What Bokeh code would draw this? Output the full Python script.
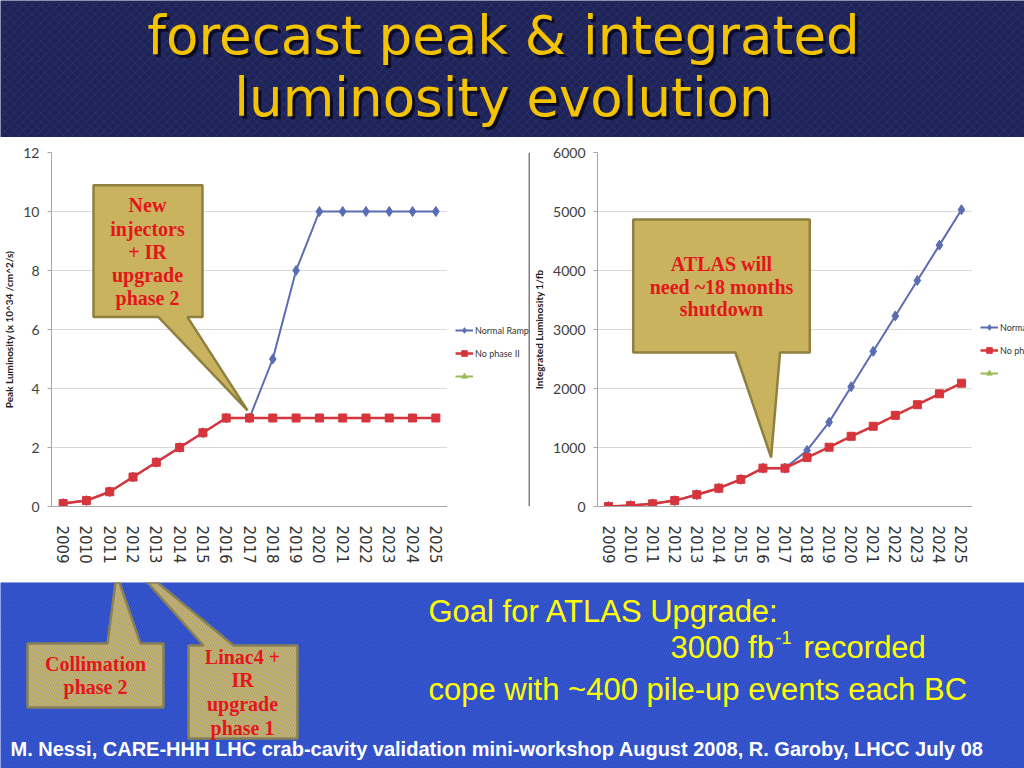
import math
from bokeh.plotting import figure
from bokeh.models import (FactorRange, Range1d, Legend, LegendItem, Label,
                          BoxAnnotation, FixedTicker, Span)
from bokeh.layouts import column, row
from bokeh.embed import file_html
from bokeh.resources import INLINE

# ---------------- data ----------------
years = ["2009", "2010", "2011", "2012", "2013", "2014", "2015", "2016", "2017",
         "2018", "2019", "2020", "2021", "2022", "2023", "2024", "2025"]
peak_normal = [0.1, 0.2, 0.5, 1.0, 1.5, 2.0, 2.5, 3.0, 3.0, 5.0, 8.0, 10.0, 10.0, 10.0, 10.0, 10.0, 10.0]
peak_nophase = [0.1, 0.2, 0.5, 1.0, 1.5, 2.0, 2.5, 3.0, 3.0, 3.0, 3.0, 3.0, 3.0, 3.0, 3.0, 3.0, 3.0]
int_normal = [0, 15, 45, 100, 200, 310, 460, 650, 650, 950, 1430, 2030, 2630, 3230, 3830, 4430, 5030]
int_nophase = [0, 15, 45, 100, 200, 310, 460, 650, 650, 830, 1005, 1190, 1360, 1545, 1725, 1910, 2090]
peak_ticks = [0, 2, 4, 6, 8, 10, 12]
int_ticks = [0, 1000, 2000, 3000, 4000, 5000, 6000]
series_labels = ["Normal Ramp", "No phase II", " "]
peak_axis_title = "Peak Luminosity (x 10^34 /cm^2/s)"
int_axis_title = "Integrated Luminosity 1/fb"

BLUE = "#5A6DB2"
RED = "#D6353B"
GREEN = "#9BBB59"
GOLD_FILL = "#C9B35E"
GOLD_LINE = "#8F8040"
CALLOUT_RED = "#E3161B"
NAVY = "#1F2458"
BRIGHT = "#2C4BC4"

W = 1024
TOP_H, MID_H, BOT_H = 137, 445, 186   # y bands: 0-137, 137-582, 582-768


def bare(width, height, xr, yr, color):
    p = figure(width=width, height=height, x_range=xr, y_range=yr,
               output_backend="svg", toolbar_location=None,
               x_axis_location=None, y_axis_location=None, min_border=0)
    p.grid.visible = False
    p.outline_line_color = None
    p.background_fill_color = color
    p.border_fill_color = color
    return p


def band(h, y_top, y_bottom, color, hatch, hatch_color, scale):
    p = bare(W, h, Range1d(0, W), Range1d(y_bottom, y_top), color)
    p.add_layout(BoxAnnotation(fill_color=None, line_color=None,
                               hatch_pattern=hatch, hatch_color=hatch_color,
                               hatch_alpha=0.35, hatch_scale=scale, hatch_weight=1))
    return p


def label(p, x, y, text, size, color, font, style="normal", align="center", alpha=1.0):
    p.add_layout(Label(x=x, y=y, text=text, text_font=font, text_font_size=size,
                       text_color=color, text_font_style=style, text_align=align,
                       text_baseline="middle", text_alpha=alpha))


def chart(width, bl, bt, bb, fr, ticks, axis_title, normal, nophase):
    p = figure(width=width, height=MID_H,
               x_range=FactorRange(factors=years, range_padding=0),
               y_range=Range1d(0, fr["ymax"]), output_backend="svg",
               toolbar_location=None, min_border_left=bl, min_border_right=0,
               min_border_top=bt, min_border_bottom=bb)
    p.background_fill_color = "white"
    p.border_fill_color = "white"
    p.outline_line_color = None
    p.xgrid.visible = False
    p.ygrid.grid_line_color = "#D9D9D9"

    p.yaxis.ticker = FixedTicker(ticks=ticks)
    p.yaxis.axis_label = axis_title
    p.yaxis.axis_label_text_font = "Lato"
    p.yaxis.axis_label_text_font_style = "bold"
    p.yaxis.axis_label_text_font_size = "10px"
    p.yaxis.axis_label_text_color = "#222222"
    p.yaxis.axis_label_standoff = 5
    p.yaxis.major_label_text_font = "Lato"
    p.yaxis.major_label_text_font_size = "14px"
    p.yaxis.major_label_text_color = "#404040"
    p.yaxis.major_label_standoff = 8
    p.yaxis.major_tick_out = 4
    p.yaxis.major_tick_in = 0
    p.yaxis.minor_tick_line_color = None
    p.yaxis.axis_line_color = "#A6A6A6"
    p.yaxis.major_tick_line_color = "#A6A6A6"

    p.xaxis.major_label_orientation = -math.pi / 2
    p.xaxis.major_label_text_font = "DejaVu Sans"
    p.xaxis.major_label_text_font_size = "15px"
    p.xaxis.major_label_text_color = "#333333"
    p.xaxis.major_tick_line_color = None
    p.xaxis.major_tick_out = 0
    p.xaxis.major_label_standoff = 19
    p.xaxis.axis_line_color = "#A6A6A6"

    p.line(years, normal, line_color=BLUE, line_width=2)
    p.scatter(years, normal, marker="diamond", size=10, color=BLUE)
    p.line(years, nophase, line_color=RED, line_width=2.5)
    p.scatter(years, nophase, marker="square", size=8, color=RED)
    return p


def legend_panel(width, vy, border_line=False):
    p = bare(width, MID_H, Range1d(0, width), Range1d(0, MID_H), "white")
    styles = [(BLUE, "diamond", 10, 2), (RED, "square", 8, 2.5), (GREEN, "triangle", 8, 2)]
    items = []
    hidden_x, hidden_y = [-50, -40], [-50, -50]   # legend-only renderers, kept off-canvas
    for lab, (c, m, s, lw) in zip(series_labels, styles):
        lr = p.line(x=hidden_x, y=hidden_y, line_color=c, line_width=lw)
        sr = p.scatter(x=hidden_x, y=hidden_y, marker=m, size=s, color=c)
        items.append(LegendItem(label=lab, renderers=[lr, sr]))
    legend = Legend(items=items, location=(8, vy), border_line_color=None,
                    background_fill_alpha=0, label_text_font="Lato",
                    label_text_font_size="9px", label_text_color="#333333",
                    glyph_width=18, glyph_height=14, label_height=14,
                    spacing=9, padding=0, margin=0, label_standoff=2)
    p.add_layout(legend)
    if border_line:
        p.add_layout(Span(location=width - 1, dimension="height",
                          line_color="#7F7F7F", line_width=2))
    return p


def to_data(fr, pts):
    n = len(years)
    xs = [(px - fr["x0"]) / (fr["x1"] - fr["x0"]) * n for px, _ in pts]
    ys = [(fr["yb"] - py) / (fr["yb"] - fr["yt"]) * fr["ymax"] for _, py in pts]
    return xs, ys


def callout_chart(p, fr, pts, center_x, lines_y, lines):
    xs, ys = to_data(fr, pts)
    p.patch(xs, ys, fill_color=GOLD_FILL, line_color=GOLD_LINE, line_width=2.5)
    for ty, t in zip(lines_y, lines):
        cx, cy = to_data(fr, [(center_x, ty)])
        label(p, cx[0], cy[0], t, "20px", CALLOUT_RED, "Liberation Serif", "bold")


# ---------------- title band ----------------
top = band(TOP_H, 0, TOP_H, NAVY, "x", "#3B4690", 9)
for txt, yc in [("forecast peak & integrated", 35), ("luminosity evolution", 97)]:
    label(top, 506, yc + 3, txt, "53px", "#05051A", "DejaVu Sans", alpha=0.8)
    label(top, 503, yc, txt, "53px", "#F3C300", "DejaVu Sans")

# ---------------- charts ----------------
fr_left = dict(x0=51, x1=447, yb=509, yt=152, ymax=12)
fr_right = dict(x0=594, x1=972, yb=506, yt=152, ymax=6000)

left = chart(447, 51, 152 - 137, 582 - 509, fr_left, peak_ticks, peak_axis_title,
             peak_normal, peak_nophase)
callout_chart(left, fr_left,
              [(93, 185), (202, 185), (202, 318), (187, 318), (247, 412), (158, 318), (93, 318)],
              147, [205, 229, 252, 276, 299],
              ["New", "injectors", "+ IR", "upgrade", "phase 2"])
left_leg = legend_panel(530 - 447, 123, border_line=True)

right = chart(972 - 530, 64, 152 - 137, 582 - 506, fr_right, int_ticks, int_axis_title,
              int_normal, int_nophase)
callout_chart(right, fr_right,
              [(630, 219), (808, 219), (808, 352), (778, 352), (769, 457), (733, 352), (630, 352)],
              719, [263, 286, 308],
              ["ATLAS will", "need ~18 months", "shutdown"])
right_leg = legend_panel(W - 972, 126)

# ---------------- bottom band ----------------
bot = band(BOT_H, 582, 768, BRIGHT, "/", "#5A7AF0", 5)
bot.patch([27, 107, 115, 119, 140, 163, 163, 27],
          [643, 643, 582, 582, 643, 643, 707, 707],
          fill_color=GOLD_FILL, line_color=GOLD_LINE, line_width=2.5)
bot.patch([188, 203, 147, 157, 233, 297, 297, 188],
          [645, 645, 582, 582, 645, 645, 738, 738],
          fill_color=GOLD_FILL, line_color=GOLD_LINE, line_width=2.5)
for ty, t in zip([663, 686], ["Collimation", "phase 2"]):
    label(bot, 95, ty, t, "20px", CALLOUT_RED, "Liberation Serif", "bold")
for ty, t in zip([656, 679, 703, 727], ["Linac4 +", "IR", "upgrade", "phase 1"]):
    label(bot, 242, ty, t, "20px", CALLOUT_RED, "Liberation Serif", "bold")

YEL = "#FFFF00"
label(bot, 428, 611, "Goal for ATLAS Upgrade:", "31px", YEL, "Liberation Sans", align="left")
label(bot, 670, 647, "3000 fb", "31px", YEL, "Liberation Sans", align="left")
label(bot, 775, 637, "-1", "18px", YEL, "Liberation Sans", align="left")
label(bot, 803, 647, "recorded", "31px", YEL, "Liberation Sans", align="left")
label(bot, 428, 689, "cope with ~400 pile-up events each BC", "31px", YEL, "Liberation Sans", align="left")
label(bot, 10, 748, "M. Nessi, CARE-HHH LHC crab-cavity validation mini-workshop August 2008, R. Garoby, LHCC July 08",
      "20px", "white", "Liberation Sans", "bold", align="left")

layout = column(top, row(left, left_leg, right, right_leg, spacing=0), bot, spacing=0)
open("out.html", "w").write(file_html(layout, INLINE))
